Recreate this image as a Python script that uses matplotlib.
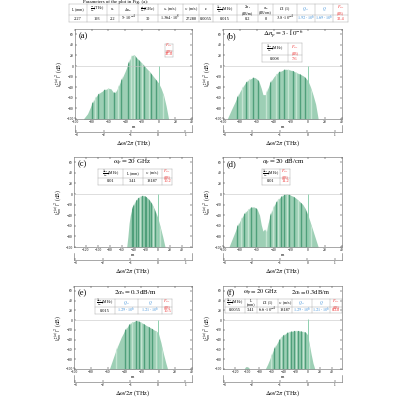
import numpy as np
import matplotlib.pyplot as plt
from matplotlib.lines import Line2D

plt.rcParams['font.family'] = ['Liberation Serif', 'DejaVu Serif']
plt.rcParams['mathtext.fontset'] = 'stix'

W, H = 400, 400
BLUE = '#3d8fd8'
RED = '#ee3030'
FILL = '#9dcfb5'
DARK = '#4f9f7a'
LIGHT = '#c4e4d2'
SPIKE = '#8fd0b0'

# parameter table of panel (a)
top_heads = ['L (mm)', r'$\frac{\omega_p}{2\pi}$(THz)', r'$n_p$', r'$\Delta n_p$',
             r'$\frac{D_1}{2\pi}$(GHz)', r'$v_p$ (m/s)', r'$v_g$ (m/s)', r'$\kappa$',
             r'$\frac{\Delta\omega_p}{2\pi}$(MHz)', '$2\\alpha_s$\n(dB/m)', '$\\alpha_p$\n(dB/cm)',
             r'$D_2$ (1)', r'$Q_{tot}$', r'$Q$', '$P_{str}$\n(dB)']
top_vals = ['2.27', '193', '2.2', r'$5\cdot10^{-4}$', '30', r'$1.364\cdot10^{8}$', '27280',
            '0.0055', '0.015', '0.2', '0', r'$3.8\cdot10^{-4}$', r'$1.92\cdot10^{6}$',
            r'$1.69\cdot10^{6}$', '32.4']
top_cols = ['k'] * 12 + [BLUE, BLUE, RED]

# spectra envelopes (m, dB)
m_a = [-90, -85, -80, -75, -70, -65, -60, -57, -54, -52, -50, -45, -40, -35, -32, -29, -26,
       -22, -18, -14, -10, -6, -2, 0, 3, 6, 9, 12]
db_a = [-100, -90, -72, -58, -50, -45, -42, -43, -50, -50, -45, -28, -10, 10, 20, 21, 15,
        9, 2, -5, -12, -20, -28, -32, -42, -55, -75, -100]
m_b = [-95, -90, -85, -80, -75, -70, -65, -62, -58, -55, -53, -50, -48, -44, -40, -35, -30,
       -26, -22, -18, -14, -10, -6, -3, 0, 3, 6, 9, 12]
db_b = [-100, -82, -65, -48, -35, -26, -22, -22, -28, -42, -54, -54, -45, -30, -20, -12, -8,
        -6, -7, -9, -12, -15, -18, -22, -28, -40, -55, -72, -100]
m_c = [-52, -50, -48, -46, -42, -38, -33, -28, -24, -20, -15, -10, -5, 0, 4, 8, 12]
db_c = [-100, -80, -55, -40, -25, -15, -8, -4, -3, -5, -10, -18, -30, -45, -62, -80, -100]
m_d = [-93, -88, -83, -78, -73, -68, -64, -60, -57, -55, -53, -51, -49, -47, -44, -40, -35,
       -30, -26, -22, -18, -14, -10, -6, -3, 0, 3, 6, 9, 12]
db_d = [-100, -80, -60, -45, -33, -26, -24, -28, -40, -58, -70, -66, -72, -55, -38, -22, -10,
        -3, 0, -1, -4, -8, -14, -20, -28, -40, -55, -70, -85, -100]
m_e = [-58, -55, -52, -48, -44, -40, -36, -32, -28, -25, -21, -16, -11, -6, -2, 0, 3, 6, 9, 11]
db_e = [-100, -85, -70, -52, -35, -22, -12, -5, -2, -1, -4, -9, -14, -19, -23, -26, -45, -68,
        -88, -100]
m_f = [-105, -103, -98, -96, -70, -66, -62, -58, -54, -50, -46, -42, -38, -34, -30, -26, -22,
       -18, -14, -10, -6, -3, 0, 3, 6, 9, 12]
db_f = [-100, -96, -96, -100, -100, -90, -78, -66, -55, -46, -39, -33, -29, -26, -24, -23, -22,
        -22, -22, -23, -24, -25, -30, -50, -70, -88, -100]

# comb lines drawn darker / lighter
dark_a = [-80, -72, -65, -53, -45, -37, -27, -23, -17, -9, -3]
light_a = [-76, -60, -48, -33, -29, -20, -12, 5]
dark_b = [-83, -73, -65, -59, -45, -34, -28, -18, -10, -4]
light_b = [-78, -69, -50, -38, -24, -14, 4]
dark_c = [-44, -41, -36, -33, -27, -22, -19, -14, -11, -5]
light_c = [-30, -8, 3]
dark_d = [-83, -75, -67, -61, -45, -38, -32, -28, -22, -16, -8, -2]
light_d = [-79, -71, -50, -41, -35, -25, -12, 4]
dark_e = [-39, -35, -27, -23, -17, -11, -7]
light_e = [-50, -31, -20, -3, 4]
dark_f = [-55, -47, -41, -34, -27, -22, -16, -11, -5]
light_f = [-60, -44, -30, -19, -8, 3]

pump = {'a': 0, 'b': 0, 'c': 0, 'd': 0, 'e': 0, 'f': 2}

# small tables inside the panels
dw = r'$\frac{\Delta\omega_p}{2\pi}$(MHz)'
pst = '$P_{str}$\n(dB)'
tab_a = ([pst], ['32.4'], [RED])
tab_b = ([dw, pst], ['0.008', '7.6'], ['k', RED])
tab_c = ([dw, 'L (mm)', r'$v_g$ (m/s)', pst], ['0.01', '3.41', '18187', '10.2'], ['k', 'k', 'k', RED])
tab_d = ([dw, pst], ['0.01', '11.2'], ['k', RED])
tab_e = ([dw, r'$Q_{tot}$', r'$Q$', pst], ['0.015', r'$1.29\cdot10^{6}$', r'$1.21\cdot10^{6}$', '10.5'],
         ['k', BLUE, BLUE, RED])
tab_f = ([dw, 'L\n(mm)', r'$D_2$ (1)', r'$v_g$ (m/s)', r'$Q_{tot}$', r'$Q$', pst],
         ['0.0055', '3.41', r'$6.6\cdot10^{-4}$', '18187', r'$1.29\cdot10^{6}$', r'$1.21\cdot10^{6}$', '0.24'],
         ['k', 'k', 'k', 'k', BLUE, BLUE, RED])


def rect(x0, y0, x1, y1):
    return [x0 / W, 1 - y1 / H, (x1 - x0) / W, (y1 - y0) / H]


def draw_table(fig, xs, ys, tab, fs=2.8):
    heads, vals, cols = tab
    kw = dict(lw=0.3, color='#a0a0a0', transform=fig.transFigure)
    for x in xs:
        fig.add_artist(Line2D([x / W] * 2, [1 - ys[0] / H, 1 - ys[2] / H], **kw))
    for y in ys:
        fig.add_artist(Line2D([xs[0] / W, xs[-1] / W], [1 - y / H] * 2, **kw))
    for i in range(len(heads)):
        xc = (xs[i] + xs[i + 1]) / 2 / W
        fig.text(xc, 1 - (ys[0] + ys[1]) / 2 / H, heads[i], ha='center', va='center',
                 fontsize=fs, color=cols[i], linespacing=0.9)
        fig.text(xc, 1 - (ys[1] + ys[2]) / 2 / H, vals[i], ha='center', va='center',
                 fontsize=fs + 0.4, color=cols[i])


def draw_panel(fig, box, xlim, xticks, m, db, dark, light, spike, tag):
    x0, y0, x1, y1 = box
    ax = fig.add_axes(rect(*box))
    poly = ax.fill_between(m, db, -100, color=FILL, lw=0, zorder=2)
    clip = poly.get_paths()[0]
    for xs, c in ((light, LIGHT), (dark, DARK)):
        lc = ax.vlines(xs, -100, 70, color=c, lw=1.0, zorder=3)
        lc.set_clip_path(clip, ax.transData)
    ax.axhline(0, color='#c4c4c4', lw=0.4, zorder=4)
    ax.vlines(0, -100, spike, color=SPIKE, lw=0.7, zorder=5)
    ax.set_xlim(xlim)
    ax.set_ylim(-100, 70)
    ax.set_xticks(xticks)
    ax.set_yticks(np.arange(-100, 61, 20))
    ax.tick_params(direction='in', top=True, right=True, length=1.2, width=0.3,
                   labelsize=2.6, pad=1)
    for s in ax.spines.values():
        s.set_linewidth(0.4)
        s.set_color('#666666')
    ax.set_xlabel('m', fontsize=3.2, labelpad=0.3)
    ax.set_ylabel(r'$|\xi_m^{(a)}|^2$ (dB)', fontsize=4, labelpad=1)
    ax.text(0.03, 0.96, tag, transform=ax.transAxes, fontsize=6, va='top')

    sx = fig.add_axes(rect(x0, y1 + 6, x1, y1 + 13))
    sx.patch.set_visible(False)
    sx.spines['top'].set_visible(False)
    for s in sx.spines.values():
        s.set_linewidth(0.4)
        s.set_color('#666666')
    sx.set_yticks([])
    sx.set_xlim(-3.05, 1.25)
    sx.set_xticks([-3, -2, -1, 0, 1])
    sx.tick_params(direction='in', length=1.2, width=0.3, labelsize=2.6, pad=0.8)
    sx.set_xlabel(r'$\Delta\omega/2\pi$ (THz)', fontsize=4.5, labelpad=0.5)
    return ax


fig = plt.figure(figsize=(4, 4), dpi=100)

fig.text(83 / W, 1 - 2 / H, 'Parameters of the plot in Fig. (a):', fontsize=3.5, va='center')
draw_table(fig, [69, 87, 107, 119, 138, 158, 183, 199, 213, 237, 258, 273, 297, 315, 333, 348],
           [4, 15, 22], (top_heads, top_vals, top_cols))

t1 = np.arange(-100, 41, 20)
t2 = np.arange(-120, 41, 20)
draw_panel(fig, (75, 29, 192, 119), (-100, 40), t1, m_a, db_a, dark_a, light_a, pump['a'], '(a)')
draw_panel(fig, (223, 29, 342, 119), (-100, 40), t1, m_b, db_b, dark_b, light_b, pump['b'], '(b)')
draw_panel(fig, (74, 157, 192, 247), (-140, 57), t2, m_c, db_c, dark_c, light_c, pump['c'], '(c)')
draw_panel(fig, (223, 157, 342, 247), (-100, 40), t1, m_d, db_d, dark_d, light_d, pump['d'], '(d)')
draw_panel(fig, (74, 286, 192, 369), (-100, 40), t1, m_e, db_e, dark_e, light_e, pump['e'], '(e)')
draw_panel(fig, (223, 286, 342, 369), (-140, 57), t2, m_f, db_f, dark_f, light_f, pump['f'], '(f)')

# titles and tables inside the panels
fig.text(283 / W, 1 - 35 / H, r'$\Delta n_p = 3\cdot10^{-6}$', fontsize=5, ha='center', va='center')
fig.text(132 / W, 1 - 163 / H, r'$\omega_p = 20$ GHz', fontsize=5, ha='center', va='center')
fig.text(283 / W, 1 - 163 / H, r'$\alpha_p = 20$ dB/cm', fontsize=5, ha='center', va='center')
fig.text(135 / W, 1 - 293 / H, r'$2\alpha_s = 0.3$dB/m', fontsize=5, ha='center', va='center')
fig.text(260 / W, 1 - 293 / H, r'$\omega_p = 20$ GHz', fontsize=4.6, ha='center', va='center')
fig.text(310 / W, 1 - 293 / H, r'$2\alpha_s = 0.3$dB/m', fontsize=4.6, ha='center', va='center')

draw_table(fig, [165, 173], [44, 51, 57], tab_a)
draw_table(fig, [262, 288, 302], [43, 55, 62], tab_b)
draw_table(fig, [98, 123, 143, 162, 172], [169, 178, 185], tab_c)
draw_table(fig, [262, 280, 290], [169, 178, 185], tab_d)
draw_table(fig, [95, 115, 138, 162, 172], [299, 307, 314], tab_e)
draw_table(fig, [225, 245, 257, 278, 292, 312, 330, 342], [299, 307, 313], tab_f)

fig.savefig('out.png', dpi=100, facecolor='white')
